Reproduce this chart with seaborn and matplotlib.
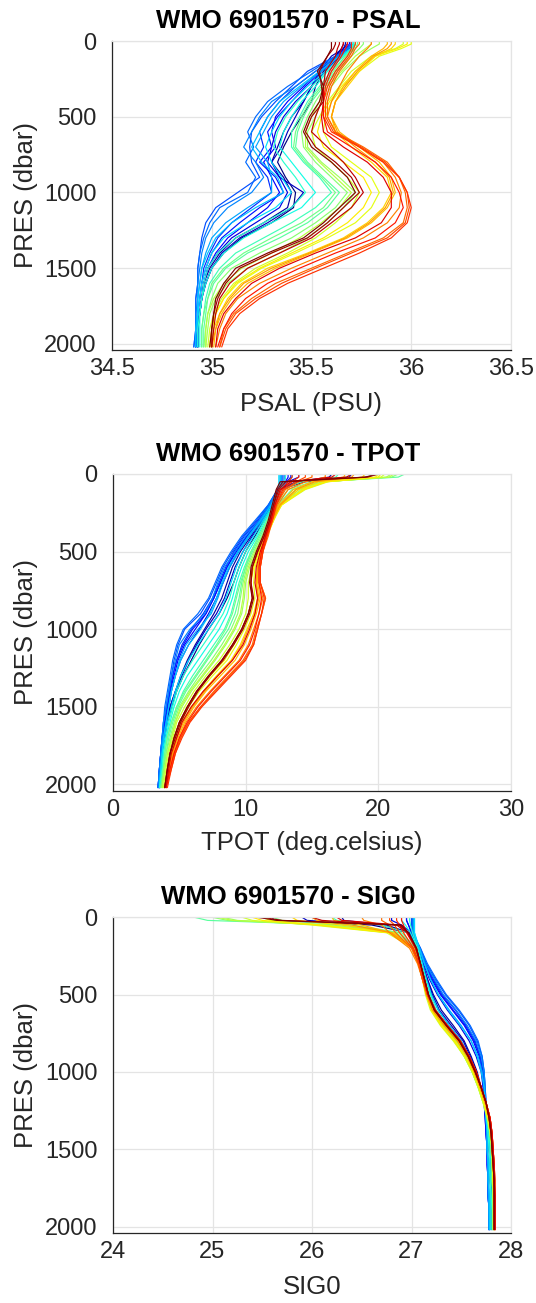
import matplotlib
matplotlib.use("Agg")
import matplotlib.pyplot as plt
import numpy as np
import pandas as pd
import seaborn as sns

# ---------------- data ----------------
PRES = [0, 20, 50, 100, 200, 300, 400, 500, 600, 700, 800, 900, 1000,
        1100, 1200, 1300, 1400, 1500, 1600, 1700, 1800, 1900, 2020]

# cycle numbers of the profiles, in the same order as the rows below
CYCLES = [1, 2, 4, 5, 7, 8, 10, 11, 13, 14, 16, 17, 19, 20, 22, 23, 25, 26,
          28, 29, 31, 32, 34, 35,
          3, 6, 9, 12, 15, 18, 21, 24, 27, 30, 33, 36]

PSAL_PROFILES = [
    [35.66,35.66,35.65,35.62,35.56,35.52,35.50,35.45,35.40,35.36,35.33,35.37,35.42,35.41,35.30,35.15,35.06,35.00,34.97,34.95,34.94,34.93,34.93],
    [35.68,35.68,35.66,35.63,35.55,35.50,35.46,35.40,35.36,35.33,35.30,35.36,35.40,35.38,35.26,35.12,35.04,34.99,34.96,34.95,34.94,34.93,34.93],
    [35.70,35.70,35.68,35.64,35.57,35.50,35.42,35.36,35.32,35.30,35.28,35.34,35.38,35.34,35.22,35.10,35.03,34.98,34.96,34.95,34.94,34.93,34.92],
    [35.69,35.69,35.67,35.62,35.54,35.46,35.38,35.32,35.30,35.32,35.26,35.30,35.34,35.28,35.18,35.08,35.02,34.98,34.96,34.95,34.94,34.93,34.93],
    [35.70,35.70,35.68,35.63,35.52,35.42,35.34,35.28,35.24,35.26,35.22,35.28,35.30,35.20,35.10,35.03,34.99,34.96,34.95,34.94,34.93,34.93,34.92],
    [35.71,35.71,35.69,35.62,35.48,35.40,35.32,35.25,35.20,35.19,35.20,35.24,35.13,35.02,34.97,34.95,34.94,34.93,34.93,34.92,34.92,34.92,34.91],
    [35.70,35.70,35.68,35.63,35.52,35.42,35.30,35.24,35.20,35.16,35.22,35.26,35.20,35.08,35.01,34.97,34.95,34.94,34.93,34.93,34.92,34.92,34.92],
    [35.72,35.72,35.70,35.64,35.55,35.45,35.36,35.30,35.26,35.22,35.28,35.30,35.30,35.18,35.07,35.00,34.97,34.95,34.94,34.93,34.93,34.92,34.92],
    [35.72,35.72,35.70,35.65,35.57,35.48,35.40,35.34,35.30,35.27,35.30,35.35,35.40,35.32,35.18,35.06,35.00,34.97,34.95,34.94,34.93,34.93,34.93],
    [35.71,35.71,35.70,35.66,35.58,35.52,35.45,35.40,35.36,35.34,35.40,35.46,35.52,35.45,35.30,35.16,35.06,35.00,34.97,34.95,34.94,34.94,34.94],
    [35.72,35.72,35.71,35.67,35.60,35.54,35.48,35.44,35.40,35.40,35.46,35.54,35.60,35.52,35.40,35.26,35.12,35.04,34.99,34.97,34.96,34.95,34.95],
    [35.73,35.73,35.72,35.68,35.62,35.56,35.50,35.46,35.43,35.42,35.48,35.56,35.64,35.58,35.48,35.34,35.18,35.07,35.01,34.98,34.97,34.96,34.96],
    [35.76,35.76,35.74,35.70,35.63,35.57,35.52,35.48,35.45,35.46,35.52,35.60,35.68,35.62,35.52,35.40,35.24,35.10,35.03,35.00,34.98,34.97,34.96],
    [35.84,35.84,35.80,35.74,35.66,35.60,35.55,35.52,35.48,35.48,35.55,35.64,35.72,35.66,35.58,35.48,35.34,35.18,35.08,35.02,34.99,34.98,34.97],
    [35.96,35.96,35.92,35.80,35.70,35.64,35.58,35.54,35.50,35.52,35.60,35.68,35.74,35.70,35.62,35.52,35.38,35.22,35.11,35.05,35.01,34.99,34.98],
    [36.00,36.00,35.95,35.84,35.74,35.66,35.60,35.57,35.56,35.60,35.70,35.80,35.84,35.80,35.72,35.58,35.42,35.25,35.13,35.06,35.02,35.00,34.99],
    [35.92,35.92,35.90,35.82,35.74,35.68,35.62,35.60,35.62,35.70,35.80,35.88,35.90,35.86,35.78,35.66,35.48,35.28,35.15,35.08,35.04,35.01,35.00],
    [35.88,35.88,35.86,35.80,35.72,35.66,35.62,35.60,35.64,35.74,35.84,35.90,35.92,35.88,35.80,35.68,35.50,35.32,35.18,35.10,35.05,35.02,35.01],
    [35.80,35.80,35.78,35.74,35.68,35.64,35.60,35.58,35.62,35.74,35.86,35.92,35.95,35.94,35.88,35.76,35.58,35.40,35.24,35.13,35.07,35.04,35.02],
    [35.74,35.74,35.72,35.70,35.64,35.60,35.58,35.58,35.62,35.76,35.88,35.94,35.97,35.98,35.96,35.86,35.68,35.50,35.32,35.20,35.11,35.06,35.04],
    [35.70,35.70,35.70,35.68,35.62,35.58,35.56,35.56,35.60,35.74,35.86,35.94,35.98,36.00,35.98,35.90,35.74,35.56,35.38,35.24,35.14,35.08,35.05],
    [35.68,35.68,35.67,35.65,35.60,35.57,35.56,35.56,35.58,35.70,35.82,35.90,35.94,35.96,35.92,35.82,35.62,35.44,35.28,35.17,35.10,35.06,35.03],
    [35.64,35.64,35.63,35.62,35.57,35.56,35.55,35.52,35.50,35.58,35.66,35.72,35.76,35.70,35.60,35.50,35.34,35.18,35.09,35.04,35.02,35.01,35.00],
    [35.62,35.62,35.61,35.58,35.54,35.55,35.56,35.50,35.47,35.52,35.62,35.70,35.74,35.66,35.58,35.48,35.30,35.14,35.07,35.03,35.01,35.00,35.00],
    [35.67,35.67,35.66,35.60,35.54,35.50,35.46,35.42,35.38,35.35,35.30,35.34,35.46,35.40,35.28,35.14,35.05,35.00,34.97,34.95,34.94,34.93,34.93],
    [35.70,35.70,35.68,35.63,35.55,35.47,35.40,35.33,35.28,35.30,35.24,35.32,35.36,35.24,35.14,35.05,35.00,34.97,34.95,34.94,34.93,34.93,34.92],
    [35.71,35.71,35.69,35.62,35.50,35.38,35.28,35.22,35.18,35.21,35.17,35.22,35.18,35.04,34.99,34.96,34.94,34.93,34.93,34.92,34.92,34.92,34.91],
    [35.71,35.71,35.70,35.64,35.54,35.44,35.34,35.28,35.24,35.20,35.25,35.33,35.36,35.22,35.10,35.02,34.98,34.95,34.94,34.93,34.93,34.92,34.92],
    [35.71,35.71,35.70,35.66,35.58,35.50,35.43,35.37,35.33,35.31,35.36,35.42,35.47,35.40,35.26,35.12,35.03,34.98,34.96,34.95,34.94,34.93,34.93],
    [35.72,35.72,35.71,35.67,35.61,35.55,35.49,35.45,35.42,35.41,35.47,35.55,35.62,35.56,35.45,35.30,35.16,35.06,35.00,34.98,34.96,34.95,34.95],
    [35.80,35.80,35.77,35.72,35.65,35.58,35.54,35.50,35.47,35.47,35.54,35.62,35.70,35.64,35.55,35.44,35.30,35.15,35.06,35.01,34.98,34.97,34.97],
    [35.98,35.98,35.93,35.82,35.72,35.65,35.59,35.55,35.53,35.56,35.66,35.76,35.80,35.76,35.68,35.56,35.40,35.24,35.12,35.06,35.02,35.00,34.99],
    [35.90,35.90,35.88,35.81,35.73,35.67,35.62,35.60,35.63,35.72,35.82,35.89,35.91,35.87,35.79,35.67,35.49,35.30,35.16,35.09,35.04,35.02,35.00],
    [35.72,35.72,35.71,35.69,35.63,35.59,35.57,35.57,35.61,35.75,35.87,35.94,35.98,35.99,35.97,35.88,35.70,35.52,35.35,35.22,35.12,35.07,35.04],
    [35.66,35.66,35.65,35.64,35.59,35.56,35.56,35.55,35.56,35.66,35.78,35.86,35.90,35.90,35.85,35.72,35.52,35.34,35.20,35.12,35.06,35.03,35.02],
    [35.60,35.60,35.60,35.58,35.53,35.56,35.54,35.49,35.46,35.50,35.60,35.68,35.72,35.64,35.56,35.46,35.28,35.12,35.06,35.02,35.01,35.00,34.99],
]

TPOT_PROFILES = [
    [19.5,19.3,14.5,12.6,12.1,11.4,10.7,10.0,9.5,9.1,8.6,8.0,7.2,6.5,5.9,5.3,4.8,4.4,4.1,3.9,3.7,3.6,3.5],
    [16.5,16.3,13.8,12.5,12.0,11.2,10.4,9.6,9.0,8.6,8.2,7.6,6.9,6.2,5.6,5.1,4.7,4.3,4.0,3.8,3.7,3.6,3.5],
    [14.0,14.0,13.2,12.5,11.9,11.1,10.2,9.4,8.8,8.3,7.8,7.2,6.5,5.7,5.1,4.7,4.4,4.2,4.0,3.8,3.7,3.6,3.5],
    [13.2,13.2,13.0,12.4,11.9,11.0,10.1,9.3,8.6,8.1,7.6,7.0,6.2,5.4,4.9,4.6,4.3,4.1,3.9,3.8,3.6,3.5,3.4],
    [13.0,13.0,12.9,12.4,11.8,10.9,9.9,9.1,8.5,8.0,7.5,6.8,5.9,5.2,4.8,4.5,4.3,4.1,3.9,3.7,3.6,3.5,3.4],
    [12.8,12.8,12.8,12.4,11.7,10.8,9.8,9.0,8.3,7.8,7.3,6.6,5.4,4.9,4.6,4.4,4.2,4.0,3.8,3.7,3.6,3.5,3.4],
    [12.6,12.6,12.6,12.4,11.8,11.0,10.0,9.2,8.4,7.9,7.5,6.9,5.8,5.0,4.7,4.4,4.2,4.0,3.8,3.7,3.6,3.5,3.4],
    [12.7,12.7,12.7,12.5,11.9,11.2,10.3,9.5,8.8,8.3,7.9,7.4,6.4,5.5,5.0,4.7,4.4,4.2,4.0,3.8,3.7,3.6,3.5],
    [12.5,12.5,12.5,12.5,12.0,11.3,10.6,9.8,9.3,8.9,8.5,8.0,7.2,6.4,5.7,5.1,4.7,4.4,4.1,3.9,3.7,3.6,3.5],
    [13.5,13.5,13.2,12.6,12.1,11.5,10.9,10.2,9.7,9.3,9.0,8.6,8.0,7.2,6.4,5.6,5.0,4.6,4.3,4.0,3.8,3.7,3.6],
    [17.0,16.8,14.2,12.8,12.2,11.6,11.0,10.4,9.9,9.5,9.2,8.9,8.4,7.6,6.8,6.0,5.3,4.8,4.4,4.1,3.9,3.8,3.6],
    [22.0,21.5,15.5,13.5,12.4,11.7,11.1,10.5,10.0,9.7,9.5,9.2,8.7,7.9,7.1,6.3,5.5,4.9,4.5,4.2,4.0,3.8,3.6],
    [21.5,21.0,15.8,13.8,12.5,11.8,11.2,10.6,10.1,9.8,9.6,9.4,8.9,8.2,7.4,6.5,5.7,5.0,4.6,4.3,4.0,3.8,3.7],
    [21.0,20.6,16.0,14.2,12.6,11.9,11.3,10.8,10.3,10.0,9.9,9.7,9.2,8.5,7.7,6.8,5.9,5.2,4.7,4.4,4.1,3.9,3.7],
    [20.5,20.2,16.2,14.5,12.7,12.0,11.5,11.0,10.5,10.2,10.2,10.0,9.5,8.8,8.0,7.0,6.1,5.4,4.8,4.5,4.2,4.0,3.8],
    [20.0,19.8,16.0,14.3,12.7,12.1,11.6,11.1,10.7,10.6,10.7,10.4,9.9,9.3,8.6,7.5,6.5,5.7,5.1,4.7,4.4,4.1,3.9],
    [19.0,18.8,15.5,14.0,12.6,12.1,11.6,11.2,10.9,10.8,10.9,10.6,10.1,9.6,8.9,7.8,6.8,5.9,5.2,4.8,4.4,4.2,3.9],
    [17.5,17.4,15.0,13.6,12.5,12.0,11.6,11.2,10.9,10.9,11.1,10.8,10.4,9.9,9.2,8.1,7.0,6.1,5.4,4.9,4.5,4.2,4.0],
    [16.0,16.0,14.5,13.2,12.4,12.0,11.6,11.2,11.0,11.0,11.3,11.0,10.6,10.2,9.5,8.4,7.3,6.3,5.5,5.0,4.6,4.3,4.0],
    [15.0,15.0,14.0,13.0,12.3,12.0,11.7,11.3,11.1,11.1,11.5,11.2,10.8,10.5,9.8,8.7,7.6,6.6,5.7,5.1,4.6,4.3,4.0],
    [14.0,14.0,13.5,12.8,12.3,12.0,11.6,11.3,11.1,11.1,11.4,11.2,10.9,10.6,10.0,8.9,7.8,6.7,5.8,5.2,4.7,4.4,4.1],
    [13.5,13.5,13.2,12.7,12.2,11.9,11.5,11.2,11.0,11.0,11.2,11.0,10.7,10.3,9.6,8.5,7.4,6.4,5.6,5.0,4.6,4.3,4.0],
    [18.0,17.6,13.0,12.5,12.1,11.8,11.4,10.9,10.5,10.4,10.5,10.2,9.7,9.0,8.2,7.2,6.3,5.6,5.0,4.6,4.3,4.1,3.9],
    [20.0,19.2,12.8,12.4,12.1,11.8,11.4,10.9,10.5,10.4,10.6,10.3,9.8,9.1,8.3,7.3,6.4,5.7,5.1,4.7,4.3,4.1,3.9],
    [18.0,17.8,14.0,12.5,12.0,11.3,10.5,9.8,9.2,8.8,8.4,7.8,7.0,6.3,5.7,5.2,4.7,4.3,4.0,3.8,3.7,3.6,3.5],
    [13.4,13.4,13.1,12.4,11.8,11.0,10.1,9.2,8.6,8.1,7.6,7.0,6.0,5.3,4.8,4.5,4.3,4.1,3.9,3.7,3.6,3.5,3.4],
    [12.9,12.9,12.9,12.4,11.7,10.7,9.7,8.9,8.2,7.7,7.2,6.4,5.3,4.8,4.5,4.3,4.1,3.9,3.8,3.7,3.6,3.5,3.4],
    [12.6,12.6,12.6,12.5,11.9,11.1,10.2,9.4,8.7,8.2,7.8,7.3,6.6,5.7,5.1,4.7,4.4,4.2,4.0,3.8,3.7,3.6,3.5],
    [13.0,13.0,12.9,12.6,12.1,11.4,10.8,10.0,9.5,9.1,8.8,8.3,7.6,6.8,6.0,5.3,4.8,4.5,4.2,4.0,3.8,3.7,3.5],
    [19.5,19.2,15.0,13.2,12.3,11.6,11.0,10.4,10.0,9.6,9.3,9.0,8.5,7.8,7.0,6.2,5.4,4.8,4.4,4.1,3.9,3.8,3.6],
    [21.2,20.8,15.9,14.0,12.6,11.9,11.3,10.7,10.2,9.9,9.8,9.6,9.1,8.4,7.6,6.7,5.8,5.1,4.7,4.4,4.1,3.9,3.7],
    [20.2,20.0,16.1,14.4,12.7,12.0,11.5,11.0,10.6,10.4,10.5,10.2,9.7,9.1,8.4,7.3,6.3,5.6,5.0,4.6,4.3,4.1,3.9],
    [18.2,18.0,15.2,13.8,12.6,12.0,11.6,11.2,10.9,10.8,11.0,10.7,10.2,9.7,9.0,7.9,6.9,6.0,5.3,4.8,4.5,4.2,3.9],
    [14.5,14.5,13.8,12.9,12.3,12.0,11.6,11.3,11.1,11.1,11.5,11.2,10.9,10.6,9.9,8.8,7.7,6.6,5.7,5.1,4.7,4.4,4.0],
    [16.8,16.5,13.4,12.6,12.2,11.9,11.5,11.1,10.8,10.7,10.9,10.7,10.3,9.8,9.0,7.9,6.8,5.9,5.2,4.8,4.4,4.2,4.0],
    [20.0,19.0,12.6,12.3,12.0,11.7,11.3,10.8,10.4,10.3,10.5,10.2,9.7,9.0,8.2,7.2,6.3,5.6,5.0,4.6,4.3,4.1,3.9],
]

SIG0_PROFILES = [
    [25.60,25.62,26.60,26.98,27.06,27.10,27.15,27.20,27.27,27.38,27.50,27.58,27.64,27.69,27.73,27.76,27.78,27.79,27.80,27.80,27.81,27.81,27.81],
    [26.30,26.32,26.75,26.98,27.06,27.11,27.16,27.22,27.30,27.42,27.53,27.60,27.66,27.70,27.73,27.75,27.77,27.78,27.79,27.79,27.80,27.80,27.80],
    [26.80,26.80,26.90,27.00,27.07,27.12,27.18,27.26,27.36,27.48,27.58,27.65,27.70,27.72,27.73,27.74,27.75,27.76,27.77,27.77,27.78,27.78,27.78],
    [26.95,26.95,26.97,27.00,27.08,27.13,27.20,27.29,27.41,27.53,27.62,27.68,27.71,27.72,27.73,27.74,27.75,27.76,27.76,27.77,27.77,27.78,27.78],
    [27.00,27.00,27.00,27.01,27.08,27.14,27.22,27.31,27.44,27.55,27.64,27.69,27.72,27.73,27.74,27.75,27.75,27.76,27.76,27.77,27.77,27.78,27.78],
    [27.00,27.00,27.00,27.01,27.09,27.15,27.24,27.34,27.47,27.58,27.66,27.71,27.73,27.74,27.75,27.75,27.76,27.76,27.77,27.77,27.77,27.78,27.78],
    [27.02,27.02,27.02,27.02,27.08,27.14,27.23,27.32,27.45,27.56,27.65,27.70,27.73,27.74,27.74,27.75,27.76,27.76,27.77,27.77,27.77,27.78,27.78],
    [27.02,27.02,27.02,27.02,27.08,27.13,27.19,27.27,27.38,27.50,27.60,27.67,27.71,27.73,27.74,27.75,27.76,27.76,27.77,27.77,27.78,27.78,27.79],
    [27.03,27.03,27.03,27.03,27.07,27.11,27.15,27.20,27.27,27.38,27.50,27.58,27.64,27.69,27.73,27.75,27.77,27.78,27.78,27.79,27.79,27.79,27.79],
    [26.90,26.90,26.94,26.99,27.06,27.10,27.14,27.18,27.24,27.35,27.48,27.57,27.63,27.68,27.73,27.76,27.78,27.79,27.80,27.80,27.80,27.81,27.81],
    [26.20,26.25,26.70,26.96,27.05,27.09,27.13,27.17,27.22,27.33,27.46,27.55,27.62,27.68,27.73,27.77,27.79,27.80,27.81,27.81,27.82,27.82,27.82],
    [24.82,24.95,26.30,26.88,27.04,27.08,27.12,27.16,27.21,27.32,27.45,27.55,27.62,27.68,27.73,27.77,27.79,27.80,27.81,27.81,27.82,27.82,27.82],
    [25.00,25.15,26.20,26.85,27.03,27.08,27.12,27.16,27.21,27.31,27.44,27.54,27.61,27.67,27.73,27.77,27.79,27.80,27.81,27.82,27.82,27.82,27.82],
    [25.10,25.25,26.10,26.80,27.03,27.07,27.11,27.15,27.20,27.30,27.43,27.53,27.61,27.67,27.72,27.77,27.79,27.81,27.81,27.82,27.82,27.82,27.82],
    [25.30,25.40,26.00,26.75,27.02,27.07,27.11,27.14,27.19,27.29,27.42,27.53,27.61,27.67,27.72,27.76,27.79,27.81,27.82,27.82,27.82,27.83,27.83],
    [25.50,25.58,26.10,26.78,27.02,27.07,27.11,27.15,27.20,27.30,27.44,27.54,27.62,27.68,27.73,27.77,27.80,27.81,27.82,27.82,27.83,27.83,27.83],
    [25.80,25.85,26.30,26.82,27.02,27.07,27.11,27.15,27.21,27.32,27.46,27.56,27.63,27.69,27.74,27.78,27.80,27.81,27.82,27.83,27.83,27.83,27.83],
    [26.20,26.22,26.50,26.80,27.00,27.07,27.11,27.15,27.22,27.34,27.47,27.57,27.64,27.69,27.74,27.78,27.80,27.82,27.82,27.83,27.83,27.83,27.83],
    [26.50,26.52,26.70,26.78,26.98,27.06,27.11,27.16,27.23,27.35,27.48,27.58,27.64,27.70,27.75,27.79,27.81,27.82,27.83,27.83,27.83,27.84,27.84],
    [26.70,26.70,26.78,26.84,27.00,27.07,27.11,27.16,27.23,27.36,27.49,27.58,27.65,27.70,27.75,27.79,27.81,27.82,27.83,27.83,27.84,27.84,27.84],
    [26.85,26.85,26.88,26.92,27.02,27.08,27.12,27.16,27.23,27.36,27.49,27.58,27.65,27.70,27.75,27.79,27.81,27.82,27.83,27.84,27.84,27.84,27.84],
    [26.90,26.90,26.92,26.95,27.04,27.09,27.13,27.17,27.24,27.36,27.49,27.58,27.65,27.70,27.75,27.79,27.81,27.82,27.83,27.83,27.84,27.84,27.84],
    [26.00,26.10,26.85,26.96,27.05,27.09,27.13,27.17,27.23,27.35,27.48,27.57,27.64,27.70,27.75,27.78,27.80,27.81,27.82,27.83,27.83,27.83,27.83],
    [25.50,25.70,26.88,26.97,27.05,27.09,27.13,27.17,27.23,27.35,27.48,27.57,27.64,27.70,27.75,27.78,27.80,27.81,27.82,27.83,27.83,27.83,27.83],
    [25.90,25.95,26.70,26.98,27.06,27.11,27.16,27.21,27.28,27.40,27.52,27.59,27.65,27.70,27.73,27.75,27.77,27.78,27.79,27.79,27.80,27.80,27.80],
    [26.95,26.95,26.97,27.00,27.08,27.14,27.21,27.30,27.42,27.54,27.63,27.69,27.72,27.73,27.74,27.75,27.75,27.76,27.76,27.77,27.77,27.78,27.78],
    [27.01,27.01,27.01,27.01,27.09,27.16,27.25,27.35,27.48,27.59,27.67,27.71,27.73,27.74,27.75,27.75,27.76,27.76,27.77,27.77,27.77,27.78,27.78],
    [27.03,27.03,27.03,27.03,27.08,27.13,27.19,27.27,27.37,27.49,27.60,27.66,27.70,27.73,27.74,27.75,27.76,27.76,27.77,27.77,27.78,27.78,27.78],
    [26.98,26.98,26.99,27.01,27.06,27.10,27.14,27.19,27.25,27.36,27.49,27.57,27.63,27.68,27.73,27.76,27.77,27.78,27.79,27.79,27.80,27.80,27.80],
    [25.60,25.70,26.40,26.90,27.05,27.09,27.13,27.17,27.22,27.32,27.45,27.55,27.62,27.68,27.73,27.77,27.79,27.80,27.81,27.81,27.82,27.82,27.82],
    [25.05,25.20,26.15,26.82,27.03,27.07,27.11,27.15,27.20,27.30,27.43,27.53,27.61,27.67,27.72,27.77,27.79,27.81,27.81,27.82,27.82,27.82,27.82],
    [25.40,25.50,26.05,26.77,27.02,27.07,27.11,27.15,27.20,27.30,27.43,27.54,27.62,27.68,27.73,27.77,27.80,27.81,27.82,27.82,27.83,27.83,27.83],
    [26.00,26.05,26.40,26.80,27.01,27.07,27.11,27.15,27.21,27.33,27.46,27.56,27.63,27.69,27.74,27.78,27.80,27.81,27.82,27.83,27.83,27.83,27.83],
    [26.78,26.78,26.83,26.88,27.01,27.07,27.11,27.16,27.23,27.36,27.49,27.58,27.65,27.70,27.75,27.79,27.81,27.82,27.83,27.84,27.84,27.84,27.84],
    [26.25,26.30,26.88,26.96,27.04,27.09,27.13,27.17,27.24,27.36,27.49,27.58,27.65,27.70,27.75,27.79,27.81,27.82,27.83,27.83,27.84,27.84,27.84],
    [25.45,25.65,26.90,26.97,27.05,27.09,27.13,27.17,27.23,27.35,27.48,27.57,27.64,27.70,27.75,27.78,27.80,27.81,27.82,27.83,27.83,27.83,27.83],
]

TITLES = ["WMO 6901570 - PSAL", "WMO 6901570 - TPOT", "WMO 6901570 - SIG0"]
XLABELS = ["PSAL (PSU)", "TPOT (deg.celsius)", "SIG0"]
YLABEL = "PRES (dbar)"
XTICKS = [[34.5, 35, 35.5, 36, 36.5], [0, 10, 20, 30], [24, 25, 26, 27, 28]]
XTICKLABELS = [["34.5", "35", "35.5", "36", "36.5"], ["0", "10", "20", "30"],
               ["24", "25", "26", "27", "28"]]
YTICKS = [0, 500, 1000, 1500, 2000]

# ---------------- style ----------------
sns.set_theme(style="white")
plt.rcParams["font.family"] = ["Liberation Sans", "DejaVu Sans"]

W, H = 536, 1303
fig = plt.figure(figsize=(W / 100, H / 100), dpi=100)

# axes boxes in pixels: (left, top, right, bottom)
boxes = [(112, 41, 511, 350), (113, 474, 511, 790.7), (113, 917.3, 511, 1232.7)]
title_y = [21, 454, 897.5]
xlabel_y = [404, 843, 1287]

DARK = "#262626"
GRID = "#e4e4e4"
JET = matplotlib.colormaps["jet"]

for k, profiles in enumerate([PSAL_PROFILES, TPOT_PROFILES, SIG0_PROFILES]):
    l, t, r, b = boxes[k]
    ax = fig.add_axes([l / W, 1 - b / H, (r - l) / W, (b - t) / H])
    rows = []
    for c, prof in sorted(zip(CYCLES, profiles), key=lambda z: z[0]):
        for p, v in zip(PRES, prof):
            rows.append((c, p, v))
    df = pd.DataFrame(rows, columns=["cycle", "PRES", "value"])
    sns.lineplot(data=df, x="value", y="PRES", hue="cycle", units="cycle",
                 estimator=None, sort=False, palette=JET,
                 hue_norm=(min(CYCLES), max(CYCLES)), legend=False,
                 linewidth=0.85, ax=ax)
    ax.set_xlim(XTICKS[k][0], XTICKS[k][-1])
    ax.set_ylim(2040, 0)
    ax.set_xticks(XTICKS[k])
    ax.set_xticklabels(XTICKLABELS[k])
    ax.set_yticks(YTICKS)
    ax.set_xlabel("")
    ax.set_ylabel("")
    ax.grid(True, color=GRID, linewidth=0.9)
    ax.set_axisbelow(True)
    for side in ["left", "bottom"]:
        ax.spines[side].set_color(DARK)
        ax.spines[side].set_linewidth(0.9)
    for side in ["top", "right"]:
        ax.spines[side].set_color(GRID)
        ax.spines[side].set_linewidth(0.9)
    ax.tick_params(direction="in", length=4, width=0.8, colors=DARK,
                   labelsize=17, top=False, right=False)
    ax.tick_params(axis="x", pad=6)
    ax.tick_params(axis="y", pad=11)

    fig.text(288 / W, 1 - title_y[k] / H, TITLES[k], ha="center", va="center",
             fontsize=18.5, fontweight="bold", color="black")
    fig.text(((l + r) / 2) / W, 1 - xlabel_y[k] / H, XLABELS[k], ha="center",
             va="center", fontsize=18.5, color=DARK)
    fig.text(26 / W, 1 - ((t + b) / 2) / H, YLABEL, ha="center", va="center",
             rotation=90, fontsize=18.5, color=DARK)

fig.savefig("out.png", dpi=100)
